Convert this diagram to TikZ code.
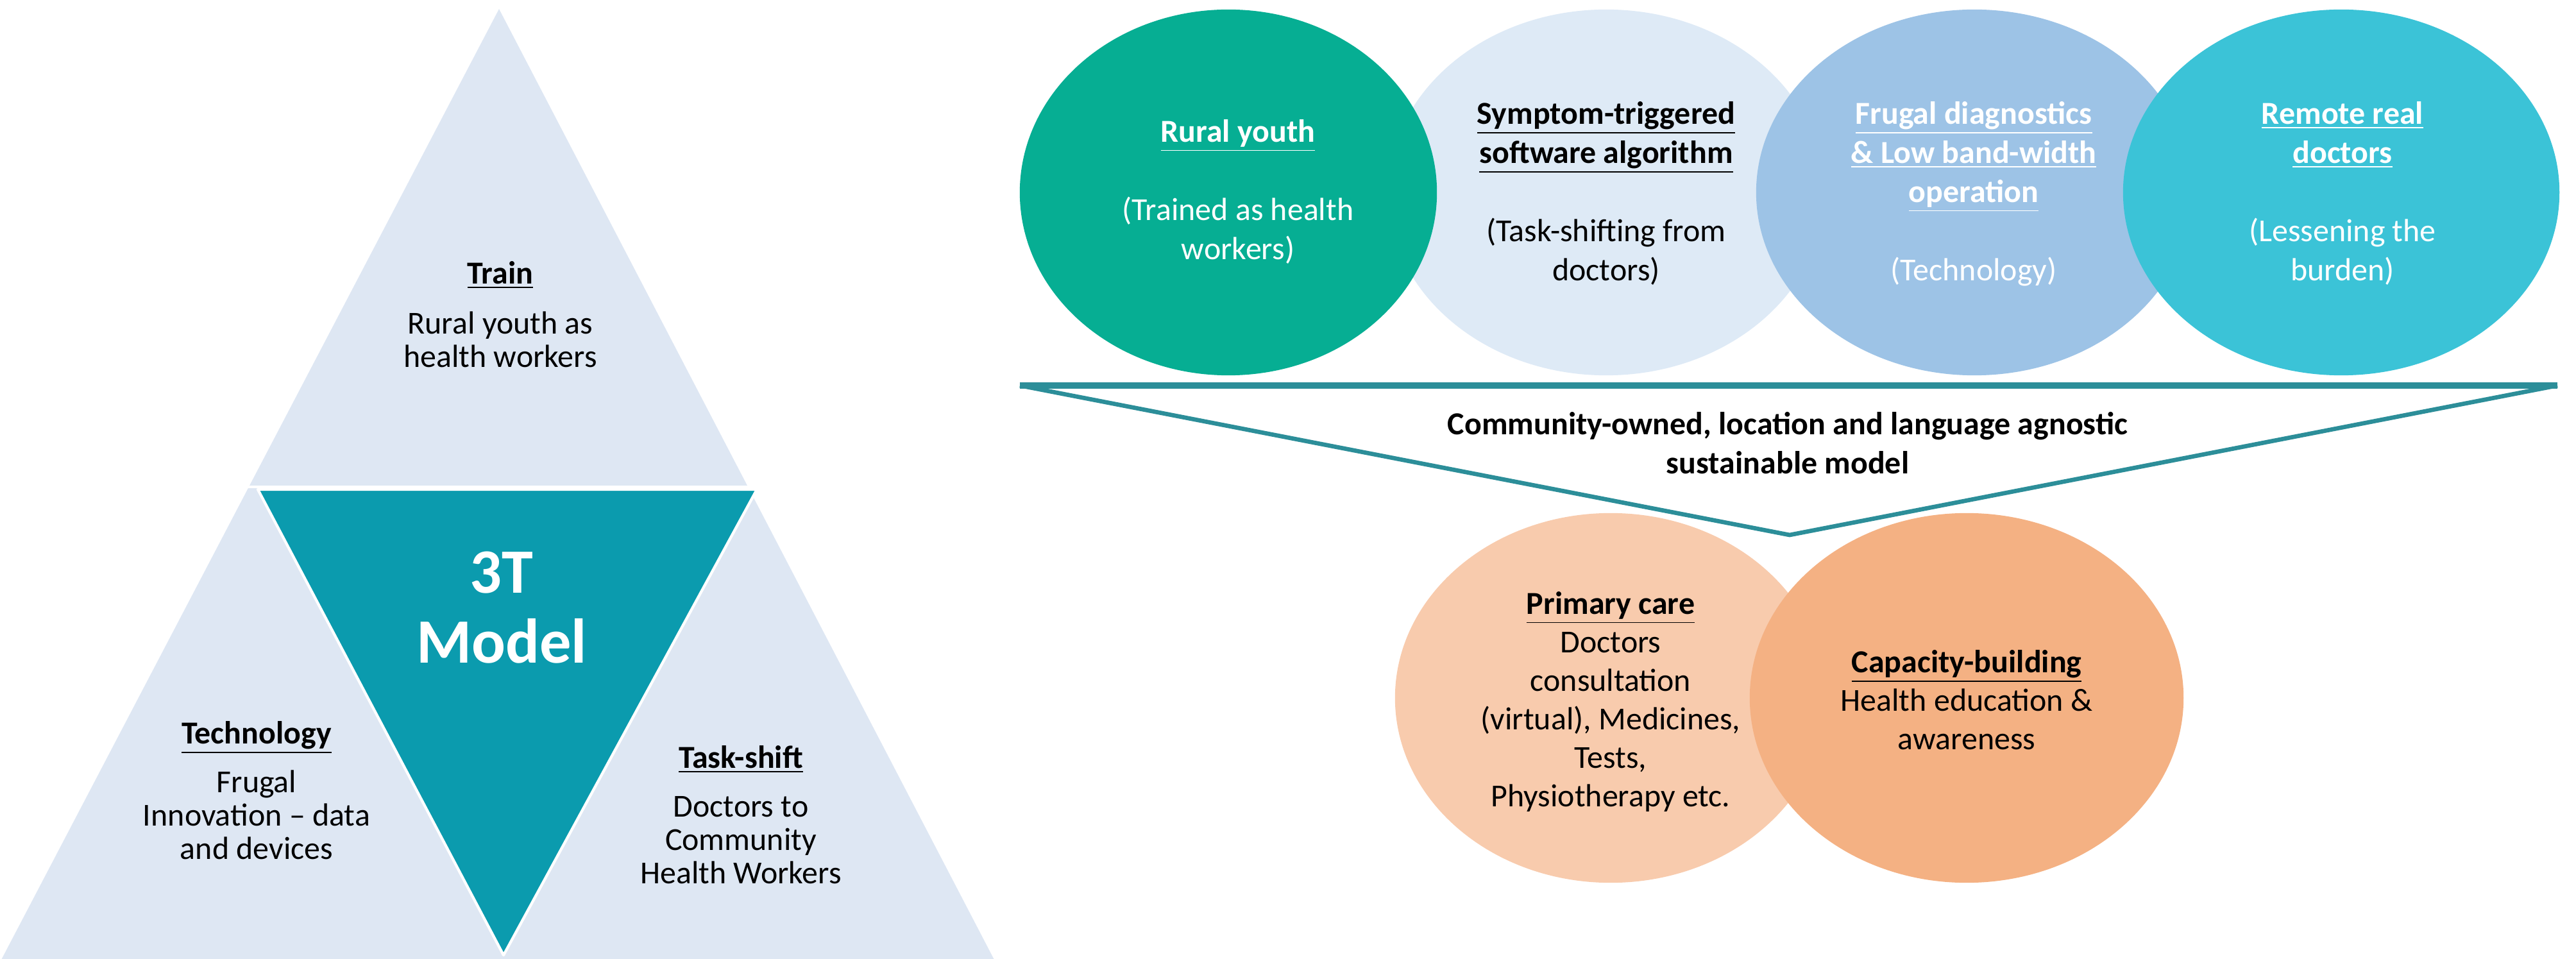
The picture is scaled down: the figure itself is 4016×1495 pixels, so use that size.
\documentclass[tikz,border=0pt]{standalone}
\usepackage{fontspec}
\setmainfont{Carlito}
\usetikzlibrary{shapes.geometric}
\definecolor{tri}{HTML}{DEE7F3}
\definecolor{tealc}{HTML}{0B9BAE}
\definecolor{ellg}{HTML}{06AE93}
\definecolor{elll}{HTML}{DEEAF6}
\definecolor{ellb}{HTML}{9DC3E6}
\definecolor{ellc}{HTML}{3BC3D7}
\definecolor{orl}{HTML}{F8CBAD}
\definecolor{ord}{HTML}{F4B183}
\definecolor{outl}{HTML}{2C8E99}
\begin{document}
\begin{tikzpicture}[x=0.01cm,y=-0.01cm,
  ell/.style={ellipse, draw=none, inner sep=0pt},
  body/.style={font=\fontsize{14.2}{14.8}\selectfont, align=center, inner sep=0pt, anchor=north},
  rbody/.style={font=\fontsize{14.2}{17.35}\selectfont, align=center, inner sep=0pt, anchor=north},
  ttl/.style={font=\bfseries\fontsize{14.2}{17.35}\selectfont, align=center, inner sep=0pt, anchor=north},
]
\useasboundingbox (0,0) rectangle (4016,1495);
% ---------- left pyramid ----------
\fill[tri] (778,14) -- (0,1500) -- (1552,1500) -- cycle;
\draw[white, line width=1.4pt] (383,759) -- (1172,759);
\fill[tealc, draw=white, line width=1.2pt, line join=round] (402,763) -- (1180,763) -- (785,1489) -- cycle;
\node[body] (train) at (780,407) {\textbf{\underline{Train}}\\[7.4pt] Rural youth as\\ health workers};
\node[body, text=white, font=\bfseries\fontsize{28}{31}\selectfont] (model) at (782,859) {3T\\ Model};
\node[body] (tech) at (400,1124) {\textbf{\underline{Technology}}\\[6.8pt] Frugal\\ Innovation – data\\ and devices};
\node[body] (task) at (1155,1162) {\textbf{\underline{Task-shift}}\\[6.8pt] Doctors to\\ Community\\ Health Workers};
% ---------- top ellipses ----------
\node[ell, fill=elll, minimum width=6.8cm, minimum height=5.7cm] (el) at (2504,300) {};
\node[ell, fill=ellg, minimum width=6.5cm, minimum height=5.7cm] (eg) at (1915,300) {};
\node[ell, fill=ellb, minimum width=6.8cm, minimum height=5.7cm] (eb) at (3078,300) {};
\node[ell, fill=ellc, minimum width=6.8cm, minimum height=5.7cm] (ec) at (3650,300) {};
\node[rbody, text=white] (tg) at (1930,186) {\textbf{\underline{Rural youth}}\\[17.35pt] (Trained as health\\ workers)};
\node[rbody] (tl) at (2504,158) {\textbf{\underline{Symptom-triggered}}\\ \textbf{\underline{software algorithm}}\\[17.35pt] (Task-shifting from\\ doctors)};
\node[rbody, text=white] (tb) at (3077,158) {\textbf{\underline{Frugal diagnostics}}\\ \textbf{\underline{\& Low band-width}}\\ \textbf{\underline{operation}}\\[17.35pt] (Technology)};
\node[rbody, text=white] (tc) at (3652,158) {\textbf{\underline{Remote real}}\\ \textbf{\underline{doctors}}\\[17.35pt] (Lessening the\\ burden)};
% ---------- funnel triangle ----------
\coordinate (fl) at (1590,601);
\coordinate (fr) at (3987,601);
\coordinate (fa) at (2790,834);
\draw[outl, line width=1.9pt, line join=miter] (fl) -- (fa) -- (fr);
\draw[outl, line width=2.8pt] (fl) -- (fr);
\node[ttl] (comm) at (2787,642) {Community-owned, location and language agnostic\\ sustainable model};
% ---------- bottom ellipses ----------
\node[ell, fill=orl, minimum width=6.72cm, minimum height=5.76cm] (ep) at (2511,1088) {};
\node[ell, fill=ord, minimum width=6.76cm, minimum height=5.76cm] (ecb) at (3066,1088) {};
\node[rbody, font=\fontsize{14.2}{17.05}\selectfont] (tp) at (2511,922) {\textbf{\underline{Primary care}}\\ Doctors\\ consultation\\ (virtual), Medicines,\\ Tests,\\ Physiotherapy etc.};
\node[rbody, font=\fontsize{14.2}{17.05}\selectfont] (tcb) at (3066,1013) {\textbf{\underline{Capacity-building}}\\ Health education \&\\ awareness};
\end{tikzpicture}
\end{document}
